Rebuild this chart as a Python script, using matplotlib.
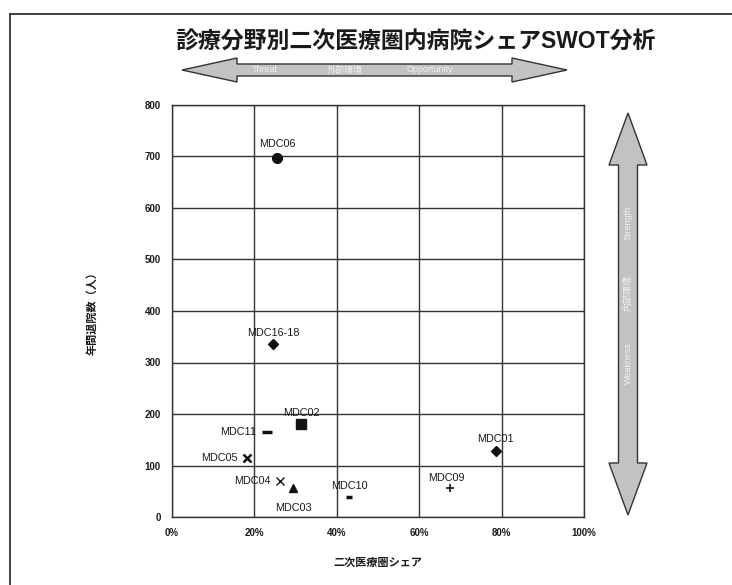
import matplotlib.pyplot as plt
from matplotlib.patches import Polygon
from matplotlib.lines import Line2D
from matplotlib.ticker import FuncFormatter

plt.rcParams['font.family'] = ['Liberation Sans', 'Noto Sans CJK JP']

# 診療分野ごとのシェアと年間退院数
codes = ['MDC06', 'MDC16-18', 'MDC02', 'MDC11', 'MDC05',
         'MDC04', 'MDC03', 'MDC10', 'MDC09', 'MDC01']
share = [25.5, 24.5, 31.3, 23.0, 18.2, 26.2, 29.4, 43.0, 67.5, 78.6]
discharges = [697, 336, 180, 165, 115, 70, 56, 39, 56, 128]
markers = ['o', 'D', 's', '_', 'x', 'x', '^', '_', '+', 'D']
msizes = [7, 5, 7, 7, 6, 6, 6, 4, 6, 5]
mwidths = [1, 1, 1, 2.5, 1.8, 1.0, 1, 2.5, 1.2, 1]
# ラベルの置き場所 (dx, dy, ha)
label_pos = [(0, 10, 'center'), (0, 8, 'center'), (0, 8, 'center'),
             (-8, 0, 'right'), (-7, 0, 'right'), (-7, 0, 'right'),
             (0, -14, 'center'), (0, 8, 'center'), (-3, 7, 'center'),
             (0, 9, 'center')]

W, H = 732, 585
fig = plt.figure(figsize=(W / 100, H / 100), dpi=100)

def px(x, y):
    # ピクセル座標(左上原点) → インチ
    return (x / 100, (H - y) / 100)

# 外枠
fig.add_artist(Line2D([10 / W, 1], [1 - 14 / H, 1 - 14 / H], transform=fig.transFigure,
                      color='#333333', lw=1.3))
fig.add_artist(Line2D([10 / W, 10 / W], [0, 1 - 14 / H], transform=fig.transFigure,
                      color='#333333', lw=1.3))

ax = fig.add_axes([172 / W, 1 - 517 / H, 412 / W, 412 / H])
for c, sx, sy, m, ms, mw, (dx, dy, ha) in zip(codes, share, discharges, markers,
                                               msizes, mwidths, label_pos):
    ax.plot(sx, sy, marker=m, ms=ms, mew=mw, color='#111111', ls='none', zorder=3)
    ax.annotate(c, (sx, sy), xytext=(dx, dy), textcoords='offset points',
                ha=ha, va='center', fontsize=7.8, color='#1a1a1a')

ax.set_xlim(0, 100)
ax.set_ylim(0, 800)
ax.set_xticks(range(0, 101, 20))
ax.set_yticks(range(0, 801, 100))
ax.xaxis.set_major_formatter(FuncFormatter(lambda v, p: f'{int(v)}%'))
ax.grid(True, color='#333333', lw=1)
ax.set_axisbelow(True)
ax.tick_params(length=0, labelsize=7, pad=8, colors='#1a1a1a')
for lab in ax.get_xticklabels() + ax.get_yticklabels():
    lab.set_fontweight('bold')
for s in ax.spines.values():
    s.set_color('#333333')
    s.set_linewidth(1)

ax.set_xlabel('二次医療圏シェア', fontsize=8, fontweight='bold', labelpad=14, color='#1a1a1a')
ax.set_ylabel('年間退院数（人）', fontsize=8, fontweight='bold', labelpad=34, color='#1a1a1a')

fig.text(415 / W, 1 - 42 / H, '診療分野別二次医療圏内病院シェアSWOT分析',
         ha='center', va='center', fontsize=16.5, fontweight='bold', color='#1a1a1a')

def double_arrow(x0, x1, yc, head, hh, bh, vertical=False):
    pts = [(x0, yc), (x0 + head, yc - hh), (x0 + head, yc - bh), (x1 - head, yc - bh),
           (x1 - head, yc - hh), (x1, yc), (x1 - head, yc + hh), (x1 - head, yc + bh),
           (x0 + head, yc + bh), (x0 + head, yc + hh)]
    if vertical:
        pts = [(b, a) for a, b in pts]
    fig.add_artist(Polygon([px(*p) for p in pts], closed=True,
                           transform=fig.dpi_scale_trans, facecolor='#c2c2c2',
                           edgecolor='#333333', lw=1))

# 外部環境 (横) と 内部環境 (縦) の矢印
double_arrow(182, 567, 70, 55, 12, 6)
double_arrow(113, 515, 628, 52, 19, 9.5, vertical=True)

for x, t in [(265, 'Threat'), (345, '外部環境'), (430, 'Opportunity')]:
    fig.text(x / W, 1 - 70 / H, t, ha='center', va='center', fontsize=6.5, color='#f0f0f0')
for y, t in [(223, 'Strength'), (293, '内部環境'), (363, 'Weakness')]:
    fig.text(628 / W, 1 - y / H, t, ha='center', va='center', fontsize=6.5,
             color='#f0f0f0', rotation=90)

fig.savefig('out.png', dpi=100)
